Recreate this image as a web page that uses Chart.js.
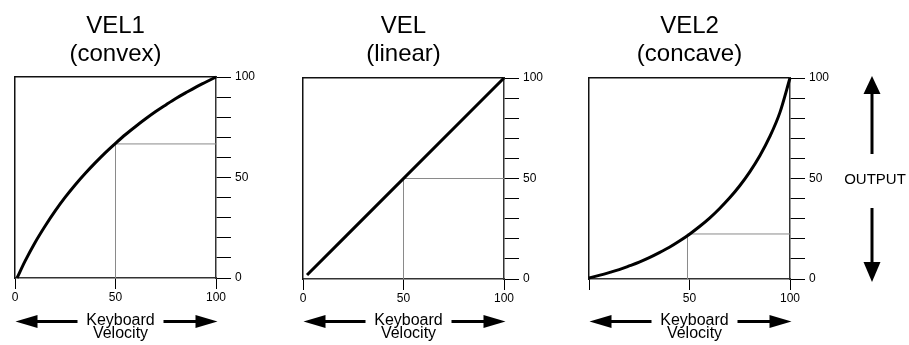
<!DOCTYPE html>
<html>
<head>
<meta charset="utf-8">
<script src="https://cdn.jsdelivr.net/npm/chart.js@4.4.1/dist/chart.umd.min.js"></script>
<style>
  html, body { margin: 0; padding: 0; background: #fff; }
  body { width: 909px; height: 345px; position: relative; overflow: hidden; }
  canvas { position: absolute; top: 0; }
</style>
</head>
<body>
<canvas id="vel1" width="270" height="345" style="left:0px"></canvas>
<canvas id="vel" width="270" height="345" style="left:288px"></canvas>
<canvas id="vel2" width="335" height="345" style="left:574px"></canvas>
<script>
// Panel titles and captions
const panelTitles = [['VEL1', '(convex)'], ['VEL', '(linear)'], ['VEL2', '(concave)']];
const axisCaption = ['Keyboard', 'Velocity'];
const outputLabel = 'OUTPUT';

// Tick values
const velocityTicks = [0, 50, 100];
const outputLabelTicks = [0, 50, 100];

// VEL1 (convex) curve
const convexVelocity = [1, 5, 10, 15, 20, 25, 30, 35, 40, 45, 50, 55, 60, 65, 70, 75, 80, 85, 90, 95, 100];
const convexOutput = [0, 8.4, 17.7, 25.9, 33.4, 40.2, 46.4, 52.1, 57.4, 62.4, 67, 71.4, 75.4, 79.2, 82.8, 86.1, 89.3, 92.2, 95, 97.5, 100];

// VEL (linear)
const linearVelocity = [2, 100];
const linearOutput = [2, 100];

// VEL2 (concave)
const concaveVelocity = [0, 5, 10, 15, 20, 25, 30, 35, 40, 45, 50, 55, 60, 65, 70, 75, 80, 85, 90, 95, 100];
const concaveOutput = [0.5, 1.8, 3.2, 4.7, 6.5, 8.4, 10.6, 13.1, 15.8, 18.9, 22.3, 26.1, 30.3, 35.1, 40.4, 46.4, 53.3, 61.3, 70.9, 82.9, 100];

// Gray guide lines (velocity 50 -> output)
const convexGuideX = [50, 50, 100];
const convexGuideY = [0, 66.7, 66.7];
const linearGuideX = [50, 50, 100];
const linearGuideY = [0, 50, 50];
const concaveGuideX = [49, 49, 100];
const concaveGuideY = [0, 22.4, 22.4];

const TICK_FONT = { family: '"Liberation Sans Narrow", "Liberation Sans", Arial, sans-serif', size: 12 };
const TEXT_FAMILY = '"Liberation Sans", Arial, Helvetica, sans-serif';

function toPoints(xs, ys) {
    return xs.map((x, i) => ({ x: x, y: ys[i] }));
}

/**
 * Draw a filled arrow from (x0,y0) to the tip (x1,y1)
 */
function arrow(ctx, x0, y0, x1, y1, headLen, headHalf, shaft) {
    const len = Math.hypot(x1 - x0, y1 - y0);
    const ux = (x1 - x0) / len, uy = (y1 - y0) / len;
    const bx = x1 - ux * headLen, by = y1 - uy * headLen;
    ctx.save();
    ctx.strokeStyle = '#000';
    ctx.fillStyle = '#000';
    ctx.lineWidth = shaft;
    ctx.beginPath();
    ctx.moveTo(x0, y0);
    ctx.lineTo(bx + ux, by + uy);
    ctx.stroke();
    ctx.beginPath();
    ctx.moveTo(x1, y1);
    ctx.lineTo(bx - uy * headHalf, by + ux * headHalf);
    ctx.lineTo(bx + uy * headHalf, by - ux * headHalf);
    ctx.closePath();
    ctx.fill();
    ctx.restore();
}

// Caption under each panel, plus the OUTPUT marker on the last one
function decorPlugin(withOutput) {
    return {
        id: 'decor',
        afterDraw(chart) {
            const ctx = chart.ctx;
            const ca = chart.chartArea;
            const cx = (ca.left + ca.right) / 2 + 5;

            ctx.save();
            ctx.fillStyle = '#000';
            ctx.font = '16px ' + TEXT_FAMILY;
            ctx.textAlign = 'center';
            ctx.textBaseline = 'alphabetic';
            ctx.fillText(axisCaption[0], cx, 325);
            ctx.fillText(axisCaption[1], cx, 337.5);
            ctx.restore();

            arrow(ctx, cx - 43, 321.5, ca.left + 0.5, 321.5, 22, 6.5, 3.2);
            arrow(ctx, cx + 43, 321.5, ca.right + 1.5, 321.5, 22, 6.5, 3.2);

            if (withOutput) {
                const ax = ca.right + 82;
                ctx.save();
                ctx.fillStyle = '#000';
                ctx.font = '15px ' + TEXT_FAMILY;
                ctx.textAlign = 'center';
                ctx.textBaseline = 'alphabetic';
                ctx.fillText(outputLabel, ca.right + 85, 184);
                ctx.restore();
                arrow(ctx, ax, ca.top + 76, ax, ca.top - 2, 18, 8.5, 3);
                arrow(ctx, ax, ca.top + 130, ax, ca.bottom + 3, 20, 8.5, 3);
            }
        }
    };
}

function buildPanel(id, cfg) {
    const dy = cfg.dy;
    return new Chart(document.getElementById(id), {
        type: 'line',
        data: {
            datasets: [{
                data: toPoints(cfg.curveX, cfg.curveY),
                xAxisID: 'x',
                yAxisID: 'y',
                borderColor: '#000',
                borderWidth: 3,
                pointRadius: 0,
                cubicInterpolationMode: 'monotone',
                clip: false,
                order: 0
            }, {
                data: toPoints(cfg.guideX, cfg.guideY),
                xAxisID: 'x',
                yAxisID: 'y',
                borderColor: '#8a8a8a',
                borderWidth: 1,
                pointRadius: 0,
                tension: 0,
                clip: false,
                order: 1
            }]
        },
        options: {
            responsive: false,
            animation: false,
            events: [],
            layout: { padding: { left: 15, right: 0, top: 0, bottom: 0 } },
            plugins: {
                legend: { display: false },
                tooltip: { enabled: false },
                title: {
                    display: true,
                    fullSize: false,
                    text: cfg.title,
                    color: '#000',
                    font: { family: TEXT_FAMILY, size: 24, weight: 'normal', lineHeight: 1.18 },
                    padding: { top: 12, bottom: 77 - 12 - 2 * 24 * 1.18 + dy }
                }
            },
            scales: {
                x: {
                    type: 'linear',
                    axis: 'x',
                    position: 'bottom',
                    min: 0,
                    max: 100,
                    afterBuildTicks: s => { s.ticks = velocityTicks.map(v => ({ value: v })); },
                    ticks: {
                        color: '#000',
                        font: TICK_FONT,
                        padding: 1,
                        maxRotation: 0,
                        autoSkip: false,
                        callback: v => (cfg.hideZero && v === 0) ? '' : String(v)
                    },
                    grid: { drawOnChartArea: false, drawTicks: true, tickLength: 11, color: '#000', lineWidth: 1 },
                    border: { color: '#333', width: 1.5 },
                    afterFit: s => { s.height = 67 - dy; }
                },
                xTop: {
                    type: 'linear',
                    axis: 'x',
                    position: 'top',
                    min: 0,
                    max: 100,
                    ticks: { display: false },
                    grid: { drawOnChartArea: false, drawTicks: false },
                    border: { color: '#111', width: 1.5 },
                    afterFit: s => { s.height = 0; }
                },
                y: {
                    type: 'linear',
                    axis: 'y',
                    position: 'right',
                    min: 0,
                    max: 100,
                    ticks: {
                        stepSize: 10,
                        color: '#000',
                        font: TICK_FONT,
                        padding: 4,
                        autoSkip: false,
                        callback: v => outputLabelTicks.includes(v) ? String(v) : ''
                    },
                    grid: { drawOnChartArea: false, drawTicks: true, tickLength: 15, color: '#000', lineWidth: 1 },
                    border: { color: '#333', width: 1.5 },
                    afterFit: s => { s.width = cfg.yWidth; }
                },
                yLeft: {
                    type: 'linear',
                    axis: 'y',
                    position: 'left',
                    min: 0,
                    max: 100,
                    ticks: { display: false },
                    grid: { drawOnChartArea: false, drawTicks: false },
                    border: { color: '#111', width: 1.5 },
                    afterFit: s => { s.width = 0; }
                }
            }
        },
        plugins: [decorPlugin(cfg.output)]
    });
}

buildPanel('vel1', {
    title: panelTitles[0],
    curveX: convexVelocity, curveY: convexOutput,
    guideX: convexGuideX, guideY: convexGuideY,
    hideZero: false, yWidth: 54, dy: 0, output: false
});
buildPanel('vel', {
    title: panelTitles[1],
    curveX: linearVelocity, curveY: linearOutput,
    guideX: linearGuideX, guideY: linearGuideY,
    hideZero: false, yWidth: 54, dy: 1, output: false
});
buildPanel('vel2', {
    title: panelTitles[2],
    curveX: concaveVelocity, curveY: concaveOutput,
    guideX: concaveGuideX, guideY: concaveGuideY,
    hideZero: true, yWidth: 119, dy: 1, output: true
});
</script>
</body>
</html>
